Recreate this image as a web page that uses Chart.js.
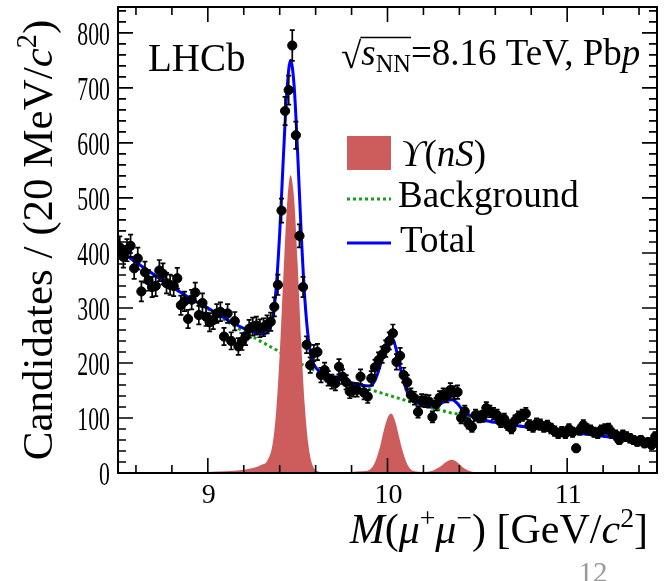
<!DOCTYPE html>
<html>
<head>
<meta charset="utf-8">
<script src="https://cdn.jsdelivr.net/npm/chart.js@4"></script>
<style>
  html, body { margin: 0; padding: 0; background: #fff; }
</style>
</head>
<body>
<canvas id="c" width="668" height="581"></canvas>
<script>
// bin centres, 20 MeV bins [GeV]
const massBins = [
  8.51, 8.53, 8.55, 8.57, 8.59, 8.61, 8.63, 8.65, 8.67, 8.69,
  8.71, 8.73, 8.75, 8.77, 8.79, 8.81, 8.83, 8.85, 8.87, 8.89,
  8.91, 8.93, 8.95, 8.97, 8.99, 9.01, 9.03, 9.05, 9.07, 9.09,
  9.11, 9.13, 9.15, 9.17, 9.19, 9.21, 9.23, 9.25, 9.27, 9.29,
  9.31, 9.33, 9.35, 9.37, 9.39, 9.41, 9.43, 9.45, 9.47, 9.49,
  9.51, 9.53, 9.55, 9.57, 9.59, 9.61, 9.63, 9.65, 9.67, 9.69,
  9.71, 9.73, 9.75, 9.77, 9.79, 9.81, 9.83, 9.85, 9.87, 9.89,
  9.91, 9.93, 9.95, 9.97, 9.99, 10.01, 10.03, 10.05, 10.07, 10.09,
  10.11, 10.13, 10.15, 10.17, 10.19, 10.21, 10.23, 10.25, 10.27, 10.29,
  10.31, 10.33, 10.35, 10.37, 10.39, 10.41, 10.43, 10.45, 10.47, 10.49,
  10.51, 10.53, 10.55, 10.57, 10.59, 10.61, 10.63, 10.65, 10.67, 10.69,
  10.71, 10.73, 10.75, 10.77, 10.79, 10.81, 10.83, 10.85, 10.87, 10.89,
  10.91, 10.93, 10.95, 10.97, 10.99, 11.01, 11.03, 11.05, 11.07, 11.09,
  11.11, 11.13, 11.15, 11.17, 11.19, 11.21, 11.23, 11.25, 11.27, 11.29,
  11.31, 11.33, 11.35, 11.37, 11.39, 11.41, 11.43, 11.45, 11.47, 11.49
];

// candidates per bin
const candidates = [
  410, 393, 405, 413, 372, 390, 330, 365, 350, 338,
  340, 368, 362, 345, 342, 340, 354, 305, 312, 280,
  315, 328, 287, 309, 284, 274, 278, 290, 293, 248,
  290, 240, 276, 230, 239, 248, 262, 266, 268, 263,
  265, 270, 275, 302, 342, 477, 658, 696, 777, 614,
  431, 338, 233, 196, 218, 220, 178, 187, 172, 166,
  163, 193, 175, 165, 148, 151, 151, 175, 146, 139,
  172, 192, 205, 215, 226, 240, 254, 202, 213, 178,
  165, 142, 136, 111, 132, 131, 130, 102, 125, 137,
  142, 140, 151, 146, 147, 100, 112, 90, 84, 105,
  102, 103, 118, 112, 108, 105, 93, 98, 87, 81,
  95, 102, 105, 108, 87, 84, 90, 88, 84, 86,
  81, 76, 72, 75, 72, 80, 74, 45, 78, 87,
  80, 78, 74, 72, 78, 80, 81, 72, 69, 60,
  69, 66, 63, 60, 57, 60, 54, 56, 51, 66
];

// fit curves
const curveX = [
  8.5, 8.6, 8.7, 8.8, 8.9, 9.0, 9.1, 9.2, 9.25, 9.3,
  9.33, 9.36, 9.38, 9.40, 9.42, 9.44, 9.46, 9.48, 9.50, 9.52,
  9.54, 9.56, 9.58, 9.61, 9.65, 9.7, 9.75, 9.8, 9.85, 9.9,
  9.93, 9.96, 9.98, 10.00, 10.02, 10.04, 10.06, 10.08, 10.11, 10.15,
  10.2, 10.25, 10.3, 10.33, 10.36, 10.39, 10.42, 10.46, 10.5, 10.6,
  10.7, 10.8, 10.9, 11.0, 11.1, 11.2, 11.3, 11.4, 11.5
];
const backgroundCurve = [
  407, 383, 360, 338, 317, 298, 277, 257, 248, 238,
  233, 227, 224, 220, 216, 212, 209, 205, 202, 198,
  195, 192, 189, 185, 180, 174, 168, 162, 157, 152,
  149, 146, 144, 142, 140, 138, 136, 134, 131, 127,
  123, 118, 114, 111, 109, 107, 104, 101, 98, 92,
  87, 82, 78, 75, 71, 67, 63, 60, 57
];
const upsilonCurve = [
  0, 0, 1, 1, 1, 2, 3, 6, 9, 15,
  22, 52, 111, 216, 355, 481, 541, 500, 379, 236,
  121, 51, 17, 3, 1, 0, 1, 2, 3, 6,
  19, 50, 78, 100, 108, 97, 72, 45, 16, 3,
  2, 4, 13, 21, 24, 19, 10, 3, 1, 0,
  0, 0, 0, 0, 0, 0, 0, 0, 0
];
const totalCurve = [
  407, 383, 361, 339, 318, 300, 280, 263, 257, 253,
  255, 279, 335, 436, 571, 693, 750, 705, 581, 434,
  316, 243, 206, 188, 181, 174, 169, 164, 160, 158,
  168, 196, 222, 242, 248, 235, 208, 179, 147, 130,
  125, 122, 127, 132, 133, 126, 114, 104, 99, 92,
  87, 82, 78, 75, 71, 67, 63, 60, 57
];

const xMajorTicks = [9, 10, 11];
const yTickLabels = [0, 100, 200, 300, 400, 500, 600, 700, 800];

const SERIF = '"Liberation Serif", "DejaVu Serif", serif';
const RED = 'rgb(205,92,92)';
const GREEN = 'rgb(20,160,20)';
const BLUE = '#0000ff';

const pts = (xs, ys) => xs.map((x, i) => ({ x: x, y: ys[i] }));

// draws a run of text pieces (italic / superscript / subscript), returns the width
function rich(ctx, x, y, parts, size, dry) {
  let cx = x;
  parts.forEach(p => {
    const small = p.sup || p.sub;
    const s = small ? size * 0.66 : size;
    ctx.font = (p.it ? 'italic ' : '') + s + 'px ' + SERIF;
    const dy = p.sup ? -size * 0.38 : p.sub ? size * 0.2 : 0;
    if (!dry) ctx.fillText(p.t, cx, y + dy);
    cx += ctx.measureText(p.t).width;
  });
  return cx - x;
}

const errorBars = {
  id: 'errorBars',
  beforeDatasetDraw(chart, args) {
    if (args.index !== 0) return;
    const ctx = chart.ctx, xs = chart.scales.x, ys = chart.scales.y;
    ctx.save();
    ctx.strokeStyle = '#000';
    ctx.lineWidth = 1.7;
    massBins.forEach((m, i) => {
      const n = candidates[i], e = Math.sqrt(n);
      const px = xs.getPixelForValue(m);
      const y1 = ys.getPixelForValue(n - e), y2 = ys.getPixelForValue(n + e);
      ctx.beginPath();
      ctx.moveTo(px, y1); ctx.lineTo(px, y2);
      ctx.moveTo(px - 2.5, y1); ctx.lineTo(px + 2.5, y1);
      ctx.moveTo(px - 2.5, y2); ctx.lineTo(px + 2.5, y2);
      ctx.stroke();
    });
    ctx.restore();
  }
};

const frame = {
  id: 'frame',
  afterDraw(chart) {
    const ctx = chart.ctx, a = chart.chartArea;
    const xs = chart.scales.x, ys = chart.scales.y;
    ctx.save();
    ctx.strokeStyle = '#000';
    ctx.fillStyle = '#000';
    ctx.lineWidth = 2;
    ctx.strokeRect(a.left, a.top, a.right - a.left, a.bottom - a.top);

    // ticks inside the frame, all four sides
    ctx.lineWidth = 1.6;
    ctx.beginPath();
    for (let v = 0; v <= 840; v += 20) {
      const y = ys.getPixelForValue(v);
      const len = v % 100 === 0 ? 15 : 8;
      ctx.moveTo(a.left, y); ctx.lineTo(a.left + len, y);
      ctx.moveTo(a.right, y); ctx.lineTo(a.right - len, y);
    }
    for (let k = 43; k <= 57; k++) {
      const m = k / 5;
      const x = xs.getPixelForValue(m);
      const len = k % 5 === 0 ? 15 : 8;
      ctx.moveTo(x, a.bottom); ctx.lineTo(x, a.bottom - len);
      ctx.moveTo(x, a.top); ctx.lineTo(x, a.top + len);
    }
    ctx.stroke();

    // y tick labels (narrow digits)
    ctx.textAlign = 'right';
    ctx.textBaseline = 'alphabetic';
    yTickLabels.forEach(v => {
      const y = ys.getPixelForValue(v);
      ctx.save();
      ctx.translate(110, y + 12);
      ctx.scale(0.64, 1);
      ctx.font = '34px ' + SERIF;
      ctx.fillText(String(v), 0, 0);
      ctx.restore();
    });

    // x tick labels
    ctx.textAlign = 'center';
    ctx.font = '28px ' + SERIF;
    xMajorTicks.forEach(m => {
      ctx.fillText(String(m), xs.getPixelForValue(m) + 1, 503);
    });

    ctx.textAlign = 'left';

    // x title
    const xTitle = [
      { t: 'M', it: true }, { t: '(' }, { t: 'μ', it: true }, { t: '+', sup: true },
      { t: 'μ', it: true }, { t: '−', sup: true }, { t: ') [GeV/' },
      { t: 'c', it: true }, { t: '2', sup: true }, { t: ']' }
    ];
    const wx = rich(ctx, 0, 0, xTitle, 42, true);
    rich(ctx, 648 - wx, 543, xTitle, 42);

    // y title
    const yTitle = [
      { t: 'Candidates / (20 MeV/' }, { t: 'c', it: true }, { t: '2', sup: true }, { t: ')' }
    ];
    const wy = rich(ctx, 0, 0, yTitle, 43, true);
    ctx.save();
    ctx.translate(52, 240 + wy / 2);
    ctx.rotate(-Math.PI / 2);
    rich(ctx, 0, 0, yTitle, 43);
    ctx.restore();

    // labels inside the frame
    ctx.font = '39px ' + SERIF;
    ctx.fillText('LHCb', 148, 71);

    let cx = 341;
    cx += rich(ctx, cx, 68, [{ t: '√' }], 37);
    const barStart = cx - 1;
    cx += rich(ctx, cx, 65, [{ t: 's', it: true }, { t: 'NN', sub: true }], 37);
    ctx.lineWidth = 1.4;
    ctx.beginPath();
    ctx.moveTo(barStart, 37.5); ctx.lineTo(cx, 37.5);
    ctx.stroke();
    rich(ctx, cx, 65, [{ t: '=8.16 TeV, Pb' }, { t: 'p', it: true }], 37);

    // legend
    ctx.fillStyle = RED;
    ctx.fillRect(347, 136, 44, 34);
    ctx.fillStyle = '#000';
    rich(ctx, 401, 166, [{ t: 'ϒ', it: true }, { t: '(' }, { t: 'n', it: true }, { t: 'S', it: true }, { t: ')' }], 37);
    ctx.lineWidth = 3;
    ctx.strokeStyle = GREEN;
    ctx.setLineDash([3, 3]);
    ctx.beginPath(); ctx.moveTo(347, 199); ctx.lineTo(391, 199); ctx.stroke();
    ctx.setLineDash([]);
    ctx.strokeStyle = BLUE;
    ctx.beginPath(); ctx.moveTo(347, 243); ctx.lineTo(391, 243); ctx.stroke();
    ctx.font = '37px ' + SERIF;
    ctx.fillText('Background', 398, 207);
    ctx.fillText('Total', 400, 252);

    // page number
    ctx.fillStyle = '#999';
    ctx.textAlign = 'center';
    ctx.font = '29px ' + SERIF;
    ctx.fillText('12', 593, 582);
    ctx.restore();
  }
};

new Chart(document.getElementById('c'), {
  type: 'line',
  data: {
    datasets: [
      {
        type: 'scatter',
        label: 'Data',
        data: pts(massBins, candidates),
        pointRadius: 4.6,
        backgroundColor: '#000',
        borderColor: '#000',
        order: 0
      },
      {
        label: 'Total',
        data: pts(curveX, totalCurve),
        borderColor: BLUE,
        borderWidth: 3,
        pointRadius: 0,
        cubicInterpolationMode: 'monotone',
        fill: false,
        order: 1
      },
      {
        label: 'ϒ(nS)',
        data: pts(curveX, upsilonCurve),
        borderWidth: 0,
        borderColor: RED,
        backgroundColor: RED,
        pointRadius: 0,
        cubicInterpolationMode: 'monotone',
        fill: 'origin',
        order: 2
      },
      {
        label: 'Background',
        data: pts(curveX, backgroundCurve),
        borderColor: GREEN,
        borderWidth: 3,
        borderDash: [3, 3],
        pointRadius: 0,
        cubicInterpolationMode: 'monotone',
        fill: false,
        order: 3
      }
    ]
  },
  options: {
    responsive: false,
    animation: false,
    layout: { padding: { left: 118, top: 7, right: 11, bottom: 108 } },
    plugins: { legend: { display: false }, tooltip: { enabled: false } },
    scales: {
      x: { type: 'linear', min: 8.5, max: 11.5, display: false },
      y: { min: 0, max: 847, display: false }
    }
  },
  plugins: [errorBars, frame]
});
</script>
</body>
</html>
